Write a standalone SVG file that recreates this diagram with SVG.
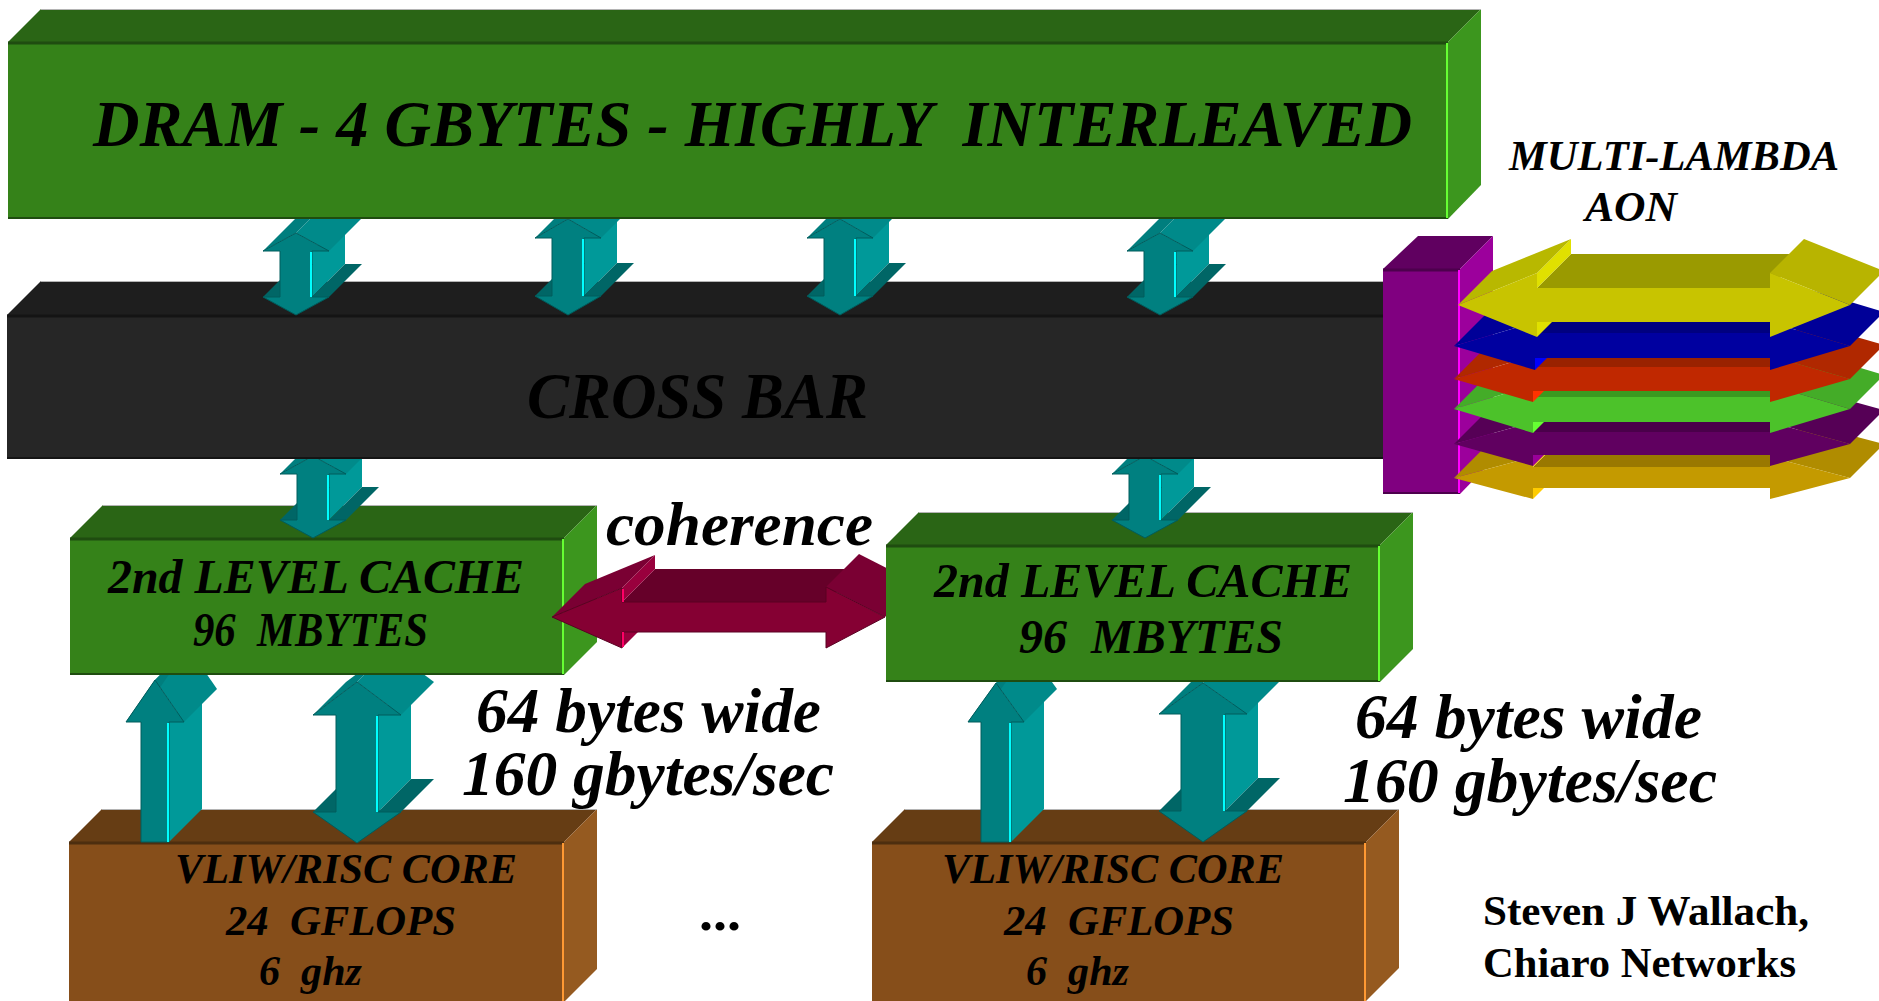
<svg xmlns="http://www.w3.org/2000/svg" xmlns:xlink="http://www.w3.org/1999/xlink" width="1879" height="1001" viewBox="0 0 1879 1001">
<style>
.bi{font-family:"Liberation Serif","Times New Roman",serif;font-weight:bold;font-style:italic;fill:#000}
.b{font-family:"Liberation Serif","Times New Roman",serif;font-weight:bold;fill:#000}
.gtop{fill:#2a6515}.gfront{fill:#358219}.gside{fill:#3c961e}
.gsep{stroke:#1f4c10;stroke-width:3}.ghl{stroke:#66ff33;stroke-width:2}
.tf{fill:#008080;stroke:#005c5c;stroke-width:1}
.ts{fill:#009999}.tw{fill:#006666}.th{fill:#008a8a}.th2{fill:#007e7e}
.hl{stroke:#00ffff;stroke-width:2}
.edge{stroke:#b4b4b4;stroke-width:1;fill:none}
</style>
<defs>
<clipPath id="cTop"><rect x="0" y="219" width="1879" height="100"/></clipPath>
<clipPath id="cMid"><rect x="0" y="459" width="1879" height="85"/></clipPath>
<clipPath id="cBotL"><rect x="0" y="675" width="600" height="200"/></clipPath>
<clipPath id="cBotR"><rect x="850" y="682" width="500" height="200"/></clipPath>
<clipPath id="cCoh"><rect x="500" y="500" width="386" height="200"/></clipPath>
<g id="ta">
<polygon class="ts" points="16,18 16,64 49,31 49,-15"/>
<polygon class="tw" points="16,64 33,64 66,31 49,31"/>
<polygon class="tw" points="-33,64 -16,64 17,31 0,31"/>
<polygon class="th" points="0,0 33,18 66,-15 33,-33"/>
<polygon class="th2" points="-33,18 0,0 33,-33 0,-15"/>
<polygon class="tf" points="0,0 33,18 16,18 16,64 33,64 0,82 -33,64 -16,64 -16,18 -33,18"/>
<line class="hl" x1="15" y1="19" x2="15" y2="64"/>
</g>
<g id="tb">
<polygon class="ts" points="16,19 16,77 49,44 49,-14"/>
<polygon class="tw" points="16,77 33,77 66,44 49,44"/>
<polygon class="tw" points="-33,77 -16,77 17,44 0,44"/>
<polygon class="th" points="0,0 33,19 66,-14 33,-33"/>
<polygon class="th2" points="-33,19 0,0 33,-33 0,-14"/>
<polygon class="tf" points="0,0 33,19 16,19 16,77 33,77 0,96 -33,77 -16,77 -16,19 -33,19"/>
<line class="hl" x1="15" y1="20" x2="15" y2="77"/>
</g>
</defs>
<rect width="1879" height="1001" fill="#fff"/>

<g id="core-left">
<polygon points="69,842 102,809 597,809 564,842" fill="#663d14"/>
<polygon points="564,842 597,809 597,969 564,1002" fill="#955a20"/>
<rect x="69" y="842" width="495" height="160" fill="#864e1a"/>
<line x1="69" y1="843" x2="564" y2="843" stroke="#4d2e0f" stroke-width="3"/>
<line x1="563" y1="843" x2="563" y2="1001" stroke="#ff9933" stroke-width="2"/>
<line class="edge" x1="102" y1="809.5" x2="597" y2="809.5"/>
<text class="bi" x="175" y="883" font-size="43" textLength="342" lengthAdjust="spacingAndGlyphs">VLIW/RISC CORE</text>
<text class="bi" x="226" y="935" font-size="43" textLength="230" lengthAdjust="spacingAndGlyphs" xml:space="preserve">24  GFLOPS</text>
<text class="bi" x="259" y="985" font-size="43" textLength="103" lengthAdjust="spacingAndGlyphs" xml:space="preserve">6  ghz</text>
</g>

<g id="core-right">
<polygon points="872,842 905,809 1399,809 1366,842" fill="#663d14"/>
<polygon points="1366,842 1399,809 1399,968 1366,1001" fill="#955a20"/>
<rect x="872" y="842" width="494" height="160" fill="#864e1a"/>
<line x1="872" y1="843" x2="1366" y2="843" stroke="#4d2e0f" stroke-width="3"/>
<line x1="1365" y1="843" x2="1365" y2="1001" stroke="#ff9933" stroke-width="2"/>
<line class="edge" x1="905" y1="809.5" x2="1399" y2="809.5"/>
<text class="bi" x="942" y="883" font-size="43" textLength="342" lengthAdjust="spacingAndGlyphs">VLIW/RISC CORE</text>
<text class="bi" x="1004" y="935" font-size="43" textLength="230" lengthAdjust="spacingAndGlyphs" xml:space="preserve">24  GFLOPS</text>
<text class="bi" x="1026" y="985" font-size="43" textLength="103" lengthAdjust="spacingAndGlyphs" xml:space="preserve">6  ghz</text>
</g>

<g id="cache-left">
<polygon class="gtop" points="70,538 103,505 597,505 564,538"/>
<polygon class="gside" points="564,538 597,505 597,642 564,675"/>
<rect class="gfront" x="70" y="538" width="494" height="137"/>
<line class="gsep" x1="70" y1="539" x2="564" y2="539"/>
<line x1="70" y1="674" x2="564" y2="674" stroke="#1f4c10" stroke-width="2"/>
<line class="ghl" x1="563" y1="539" x2="563" y2="674"/>
<line class="edge" x1="103" y1="505.5" x2="597" y2="505.5"/>
<text class="bi" x="108" y="593" font-size="48" textLength="416" lengthAdjust="spacingAndGlyphs">2nd LEVEL CACHE</text>
<text class="bi" x="193" y="646" font-size="48" textLength="235" lengthAdjust="spacingAndGlyphs" xml:space="preserve">96  MBYTES</text>
</g>

<g id="cache-right">
<polygon class="gtop" points="886,545 919,512 1413,512 1380,545"/>
<polygon class="gside" points="1380,545 1413,512 1413,649 1380,682"/>
<rect class="gfront" x="886" y="545" width="494" height="137"/>
<line class="gsep" x1="886" y1="546" x2="1380" y2="546"/>
<line x1="886" y1="681" x2="1380" y2="681" stroke="#1f4c10" stroke-width="2"/>
<line class="ghl" x1="1379" y1="546" x2="1379" y2="681"/>
<line class="edge" x1="919" y1="512.5" x2="1413" y2="512.5"/>
<text class="bi" x="934" y="597" font-size="48" textLength="418" lengthAdjust="spacingAndGlyphs">2nd LEVEL CACHE</text>
<text class="bi" x="1019" y="653" font-size="48" textLength="264" lengthAdjust="spacingAndGlyphs" xml:space="preserve">96  MBYTES</text>
</g>

<g id="crossbar">
<polygon points="7,315 41,281 1417,281 1383,315" fill="#1e1e1e"/>
<rect x="7" y="315" width="1376" height="144" fill="#262626"/>
<line x1="7" y1="316" x2="1383" y2="316" stroke="#141414" stroke-width="3"/>
<line x1="7" y1="458" x2="1383" y2="458" stroke="#141414" stroke-width="2"/>
<line class="edge" x1="41" y1="281.5" x2="1417" y2="281.5"/>
<text class="bi" x="527" y="418" font-size="66" textLength="341" lengthAdjust="spacingAndGlyphs">CROSS BAR</text>
</g>

<g id="dram">
<polygon class="gtop" points="8,42 41,9 1481,9 1448,42"/>
<polygon class="gside" points="1448,42 1481,9 1481,185 1448,219"/>
<rect class="gfront" x="8" y="42" width="1440" height="177"/>
<line class="gsep" x1="8" y1="43" x2="1448" y2="43"/>
<line x1="8" y1="218" x2="1448" y2="218" stroke="#1f4c10" stroke-width="2"/>
<line class="ghl" x1="1447" y1="43" x2="1447" y2="218"/>
<line class="edge" x1="41" y1="9.5" x2="1481" y2="9.5"/>
<text class="bi" x="93" y="146" font-size="66" textLength="1319" lengthAdjust="spacingAndGlyphs" xml:space="preserve">DRAM - 4 GBYTES - HIGHLY  INTERLEAVED</text>
</g>

<g id="aon">
<polygon points="1383,269 1418,236 1493,236 1460,269" fill="#600060"/>
<polygon points="1460,269 1493,236 1493,460 1460,494" fill="#9c009c"/>
<rect x="1383" y="269" width="77" height="225" fill="#800080"/>
<line x1="1383" y1="270" x2="1460" y2="270" stroke="#4d004d" stroke-width="3"/>
<line x1="1383" y1="493" x2="1460" y2="493" stroke="#4d004d" stroke-width="2"/>
<line x1="1459" y1="270" x2="1459" y2="493" stroke="#ff00ff" stroke-width="2"/>
<g id="lambda-gold">
<polygon points="1533,467 1770,467 1804,433 1567,433" fill="#9a7800"/>
<polygon points="1533,457 1533,467 1567,433 1567,423" fill="#ffcc00"/>
<polygon points="1454,478 1533,457 1567,423 1488,444" fill="#b08c00"/>
<polygon points="1770,457 1850,478 1884,444 1804,423" fill="#b08c00"/>
<polygon points="1533,488 1533,499 1544,488" fill="#ffcc00"/>
<polygon points="1454,478 1533,457 1533,467 1770,467 1770,457 1850,478 1770,499 1770,488 1533,488 1533,499" fill="#c49a00"/>
</g>
<g id="lambda-purple">
<polygon points="1533,432 1770,432 1804,398 1567,398" fill="#4a004a"/>
<polygon points="1533,422 1533,432 1567,398 1567,388" fill="#990099"/>
<polygon points="1454,444 1533,422 1567,388 1488,410" fill="#560056"/>
<polygon points="1770,422 1850,444 1884,410 1804,388" fill="#560056"/>
<polygon points="1533,455 1533,466 1544,455" fill="#990099"/>
<polygon points="1454,444 1533,422 1533,432 1770,432 1770,422 1850,444 1770,466 1770,455 1533,455 1533,466" fill="#600060"/>
</g>
<g id="lambda-green">
<polygon points="1533,397 1770,397 1804,363 1567,363" fill="#3a9a20"/>
<polygon points="1533,385 1533,397 1567,363 1567,351" fill="#66ff33"/>
<polygon points="1454,409 1533,385 1567,351 1488,375" fill="#44ac28"/>
<polygon points="1770,385 1850,409 1884,375 1804,351" fill="#44ac28"/>
<polygon points="1533,422 1533,433 1544,422" fill="#66ff33"/>
<polygon points="1454,409 1533,385 1533,397 1770,397 1770,385 1850,409 1770,433 1770,422 1533,422 1533,433" fill="#4cc22a"/>
</g>
<g id="lambda-red">
<polygon points="1533,367 1770,367 1804,333 1567,333" fill="#992200"/>
<polygon points="1533,356 1533,367 1567,333 1567,322" fill="#ff3300"/>
<polygon points="1454,379 1533,356 1567,322 1488,345" fill="#b02800"/>
<polygon points="1770,356 1850,379 1884,345 1804,322" fill="#b02800"/>
<polygon points="1533,391 1533,402 1544,391" fill="#ff3300"/>
<polygon points="1454,379 1533,356 1533,367 1770,367 1770,356 1850,379 1770,402 1770,391 1533,391 1533,402" fill="#c02800"/>
</g>
<g id="lambda-blue">
<polygon points="1535,333 1770,333 1804,299 1569,299" fill="#000080"/>
<polygon points="1535,322 1535,333 1569,299 1569,288" fill="#0000e0"/>
<polygon points="1454,346 1535,322 1569,288 1488,312" fill="#000098"/>
<polygon points="1770,322 1850,346 1884,312 1804,288" fill="#000098"/>
<polygon points="1535,358 1535,370 1547,358" fill="#0000ff"/>
<polygon points="1454,346 1535,322 1535,333 1770,333 1770,322 1850,346 1770,370 1770,358 1535,358 1535,370" fill="#0000a0"/>
</g>
<g id="lambda-yellow">
<polygon points="1537,288 1770,288 1804,254 1571,254" fill="#9a9a00"/>
<polygon points="1537,273 1537,288 1571,254 1571,239" fill="#e0e000"/>
<polygon points="1458,305 1537,273 1571,239 1492,271" fill="#b8b800"/>
<polygon points="1770,273 1850,305 1884,271 1804,239" fill="#b8b400"/>
<polygon points="1537,322 1537,337 1552,322" fill="#e0e000"/>
<polygon points="1458,305 1537,273 1537,288 1770,288 1770,273 1850,305 1770,337 1770,322 1537,322 1537,337" fill="#c8c400"/>
</g>
</g>

<g id="connectors">
<g clip-path="url(#cTop)">
<use xlink:href="#ta" x="296" y="233"/>
<use xlink:href="#tb" x="568" y="219"/>
<use xlink:href="#tb" x="840" y="219"/>
<use xlink:href="#ta" x="1160" y="233"/>
</g>
<g clip-path="url(#cMid)">
<use xlink:href="#ta" x="313" y="456"/>
<use xlink:href="#ta" x="1145" y="456"/>
</g>
<g clip-path="url(#cBotL)">
<polygon class="ts" points="169,722 169,842 202,809 202,689"/>
<polygon class="th" points="155,680 184,722 217,689 188,647"/>
<polygon class="th2" points="126,722 155,680 188,647 159,689"/>
<polygon class="tf" points="155,680 184,722 169,722 169,842 141,842 141,722 126,722"/>
<line class="hl" x1="168" y1="723" x2="168" y2="842"/>
<polygon class="ts" points="378,715 378,812 411,779 411,682"/>
<polygon class="tw" points="378,812 401,812 434,779 411,779"/>
<polygon class="tw" points="313,812 336,812 369,779 346,779"/>
<polygon class="th" points="357,682 401,715 434,682 390,649"/>
<polygon class="th2" points="313,715 357,682 390,649 346,682"/>
<polygon class="tf" points="357,682 401,715 378,715 378,812 401,812 357,843 313,812 336,812 336,715 313,715"/>
<line class="hl" x1="377" y1="716" x2="377" y2="812"/>
</g>
<g clip-path="url(#cBotR)">
<polygon class="ts" points="1011,722 1011,842 1044,809 1044,689"/>
<polygon class="th" points="996,683 1024,722 1057,689 1029,650"/>
<polygon class="th2" points="968,722 996,683 1029,650 1001,689"/>
<polygon class="tf" points="996,683 1024,722 1011,722 1011,842 981,842 981,722 968,722"/>
<line class="hl" x1="1010" y1="723" x2="1010" y2="842"/>
<polygon class="ts" points="1225,714 1225,811 1258,778 1258,681"/>
<polygon class="tw" points="1225,811 1247,811 1280,778 1258,778"/>
<polygon class="tw" points="1159,811 1181,811 1214,778 1192,778"/>
<polygon class="th" points="1203,683 1247,714 1280,681 1236,650"/>
<polygon class="th2" points="1159,714 1203,683 1236,650 1192,681"/>
<polygon class="tf" points="1203,683 1247,714 1225,714 1225,811 1247,811 1203,842 1159,811 1181,811 1181,714 1159,714"/>
<line class="hl" x1="1224" y1="715" x2="1224" y2="811"/>
</g>
<g id="coherence-arrow" clip-path="url(#cCoh)">
<polygon points="622,602 826,602 859,569 655,569" fill="#660029"/>
<polygon points="552,617 622,588 655,555 585,584" fill="#7a0033"/>
<polygon points="622,588 622,602 655,569 655,555" fill="#99003d"/>
<polygon points="826,587 885,617 918,584 859,554" fill="#7a0033"/>
<polygon points="622,632 622,648 638,632" fill="#99003d"/>
<polygon points="552,617 622,588 622,602 826,602 826,587 885,617 826,648 826,632 622,632 622,648" fill="#850033" stroke="#5a0022" stroke-width="1"/>
<line x1="623" y1="589" x2="623" y2="602" stroke="#ff0066" stroke-width="2"/>
<line x1="623" y1="632" x2="623" y2="647" stroke="#ff0066" stroke-width="2"/>
</g>
</g>

<g id="labels">
<text class="bi" x="606" y="545" font-size="62" textLength="267" lengthAdjust="spacingAndGlyphs">coherence</text>
<text class="bi" x="1509" y="170" font-size="42" textLength="330" lengthAdjust="spacingAndGlyphs">MULTI-LAMBDA</text>
<text class="bi" x="1585" y="221" font-size="42" textLength="92" lengthAdjust="spacingAndGlyphs">AON</text>
<text class="bi" x="476" y="732" font-size="63" textLength="345" lengthAdjust="spacingAndGlyphs">64 bytes wide</text>
<text class="bi" x="462" y="795" font-size="63" textLength="372" lengthAdjust="spacingAndGlyphs">160 gbytes/sec</text>
<text class="bi" x="1355" y="738" font-size="63" textLength="347" lengthAdjust="spacingAndGlyphs">64 bytes wide</text>
<text class="bi" x="1343" y="802" font-size="63" textLength="374" lengthAdjust="spacingAndGlyphs">160 gbytes/sec</text>
<text class="b" x="699" y="930" font-size="52" textLength="42" lengthAdjust="spacingAndGlyphs">...</text>
<text class="b" x="1483" y="925" font-size="42" textLength="326" lengthAdjust="spacingAndGlyphs">Steven J Wallach,</text>
<text class="b" x="1483" y="977" font-size="42" textLength="313" lengthAdjust="spacingAndGlyphs">Chiaro Networks</text>
</g>
</svg>
